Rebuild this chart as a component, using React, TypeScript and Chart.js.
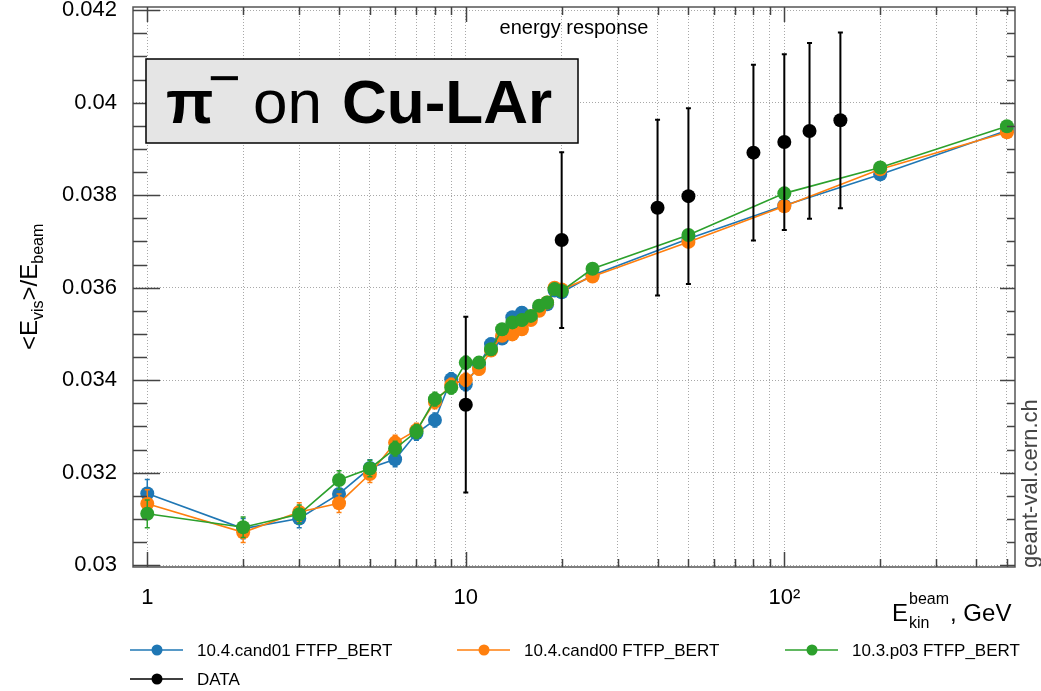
import React, { useEffect, useRef } from "react";
import { Chart, registerables } from "chart.js";

Chart.register(...registerables);

// ---------------- data ----------------
const energies = [1, 2, 3, 4, 5, 6, 7, 8, 9, 10, 11, 12, 13, 14, 15, 16, 17, 18, 19, 20, 25, 50, 100, 200, 500];

const cand01 = [
  0.03155, 0.03079, 0.03101, 0.03154, 0.0321, 0.03229, 0.03285, 0.03314, 0.03402, 0.03391,
  0.03434, 0.03478, 0.0349, 0.03536, 0.03546, 0.03535, 0.03557, 0.03564, 0.03594, 0.0359,
  0.03627, 0.03706, 0.03778, 0.03845, 0.0394,
];
const cand00 = [
  0.03133, 0.03071, 0.03115, 0.03134, 0.03197, 0.03265, 0.03292, 0.03353, 0.0339, 0.03401,
  0.03424, 0.03464, 0.03496, 0.03499, 0.0351, 0.0353, 0.0355, 0.03568, 0.036, 0.03596,
  0.03624, 0.03699, 0.03776, 0.03856, 0.03936,
];
const p03 = [
  0.03111, 0.03082, 0.0311, 0.03184, 0.03209, 0.03252, 0.03289, 0.03359, 0.03384, 0.03438,
  0.03438, 0.03467, 0.0351, 0.03525, 0.0353, 0.03539, 0.03561, 0.03568, 0.03597, 0.03593,
  0.03641, 0.03714, 0.03804, 0.0386, 0.03949,
];
const mcErr = [
  0.0003, 0.00022, 0.0002, 0.0002, 0.00018, 0.00016, 0.00015, 0.00015, 0.00014, 0.00014,
  0.00012, 0.00012, 0.00012, 0.00012, 0.00012, 0.0001, 0.0001, 0.0001, 0.0001, 0.0001,
  0.0001, 0.0001, 0.0001, 0.0001, 0.0001,
];

const dataEnergies = [10, 20, 40, 50, 80, 100, 120, 150];
const dataValues = [0.03347, 0.03703, 0.03773, 0.03798, 0.03892, 0.03915, 0.03939, 0.03962];
const dataErr = [0.0019, 0.0019, 0.0019, 0.0019, 0.0019, 0.0019, 0.0019, 0.0019];

const seriesNames = ["10.4.cand01 FTFP_BERT", "10.4.cand00 FTFP_BERT", "10.3.p03 FTFP_BERT", "DATA"];
const seriesColors = ["#1f77b4", "#ff7f0e", "#2ca02c", "#000000"];

const xTicks = [1, 2, 3, 4, 5, 6, 7, 8, 9, 10, 20, 30, 40, 50, 60, 70, 80, 90, 100, 200, 300, 400, 500];
const xMajor = [1, 10, 100];
const xMajorLabels = ["1", "10", "10²"];
const yTicks = [0.03, 0.032, 0.034, 0.036, 0.038, 0.04, 0.042];
const yLabels = ["0.03", "0.032", "0.034", "0.036", "0.038", "0.04", "0.042"];
const yMinorStep = 0.0005;

const FONT = "'Liberation Sans', Arial, Helvetica, sans-serif";

function pts(xs: number[], ys: number[]) {
  return xs.map((x, i) => ({ x, y: ys[i] }));
}

// ---------------- plugins ----------------
const errorBarPlugin = {
  id: "errorBars",
  beforeDatasetDraw(chart: any, args: any) {
    const ds = chart.data.datasets[args.index];
    if (!ds.errors) return;
    const { ctx, chartArea } = chart;
    const xs = chart.scales.x;
    const ys = chart.scales.y;
    ctx.save();
    ctx.beginPath();
    ctx.rect(chartArea.left, chartArea.top, chartArea.right - chartArea.left, chartArea.bottom - chartArea.top);
    ctx.clip();
    ctx.strokeStyle = ds.borderColor;
    ctx.lineWidth = ds.errWidth || 1.5;
    const cap = ds.capHalf || 2.5;
    ds.data.forEach((p: any, i: number) => {
      const px = xs.getPixelForValue(p.x);
      const y1 = ys.getPixelForValue(p.y + ds.errors[i]);
      const y2 = ys.getPixelForValue(p.y - ds.errors[i]);
      ctx.beginPath();
      ctx.moveTo(px, y1);
      ctx.lineTo(px, y2);
      ctx.moveTo(px - cap, y1);
      ctx.lineTo(px + cap, y1);
      ctx.moveTo(px - cap, y2);
      ctx.lineTo(px + cap, y2);
      ctx.stroke();
    });
    ctx.restore();
  },
};

const decorPlugin = {
  id: "decor",
  afterDraw(chart: any) {
    const { ctx, chartArea } = chart;
    const { left, right, top, bottom } = chartArea;
    const xs = chart.scales.x;
    const ys = chart.scales.y;
    ctx.save();

    // frame
    ctx.strokeStyle = "#555";
    ctx.lineWidth = 1.5;
    ctx.strokeRect(left, top, right - left, bottom - top);

    // y ticks (inside, left & right)
    ctx.strokeStyle = "#444";
    ctx.lineWidth = 1.5;
    for (let v = yTicks[0]; v <= ys.max + 1e-9; v += yMinorStep) {
      const py = Math.round(ys.getPixelForValue(v)) + 0.5;
      const major = yTicks.some((t) => Math.abs(t - v) < 1e-7);
      ctx.beginPath();
      ctx.moveTo(left, py);
      ctx.lineTo(left + (major ? 27 : 14), py);
      ctx.moveTo(right, py);
      ctx.lineTo(right - (major ? 15 : 8), py);
      ctx.stroke();
    }
    // x ticks (inside, bottom & top)
    xTicks.forEach((t) => {
      const px = Math.round(xs.getPixelForValue(t)) + 0.5;
      const major = xMajor.includes(t);
      const len = major ? 15 : 8;
      ctx.beginPath();
      ctx.moveTo(px, bottom);
      ctx.lineTo(px, bottom - len);
      ctx.moveTo(px, top);
      ctx.lineTo(px, top + len);
      ctx.stroke();
    });

    // title box
    ctx.fillStyle = "#e5e5e5";
    ctx.fillRect(146, 59, 432, 84);
    ctx.strokeStyle = "#000";
    ctx.lineWidth = 1.5;
    ctx.strokeRect(146, 59, 432, 84);
    ctx.fillStyle = "#000";
    ctx.textBaseline = "alphabetic";
    ctx.textAlign = "left";
    ctx.font = `bold 62px ${FONT}`;
    ctx.fillText("π", 166, 123);
    ctx.font = `56px ${FONT}`;
    ctx.fillText("−", 208, 97);
    ctx.font = `62px ${FONT}`;
    ctx.fillText("on", 253, 123);
    ctx.font = `bold 62px ${FONT}`;
    ctx.fillText("Cu-LAr", 342, 123);

    // header
    ctx.font = `20px ${FONT}`;
    ctx.textAlign = "center";
    ctx.fillText("energy response", 574, 34);

    // y title (rotated)
    ctx.save();
    ctx.translate(37, 350);
    ctx.rotate(-Math.PI / 2);
    ctx.textAlign = "left";
    let cx = 0;
    const part = (txt: string, size: number, dy: number) => {
      ctx.font = `${size}px ${FONT}`;
      ctx.fillText(txt, cx, dy);
      cx += ctx.measureText(txt).width;
    };
    part("<E", 24, 0);
    part("vis", 16, 6);
    part(">/E", 24, 0);
    part("beam", 16, 6);
    ctx.restore();

    // x title
    ctx.save();
    ctx.textAlign = "left";
    ctx.font = `24px ${FONT}`;
    const ex = 892;
    ctx.fillText("E", ex, 621);
    const ew = ctx.measureText("E").width;
    ctx.font = `16px ${FONT}`;
    ctx.fillText("beam", ex + ew + 1, 604);
    ctx.fillText("kin", ex + ew + 1, 628);
    const bw = ctx.measureText("beam").width;
    ctx.font = `24px ${FONT}`;
    ctx.fillText(", GeV", ex + ew + 1 + bw + 1, 621);
    ctx.restore();

    // watermark
    ctx.save();
    ctx.translate(1037, 568);
    ctx.rotate(-Math.PI / 2);
    ctx.font = `22px ${FONT}`;
    ctx.fillStyle = "#444";
    ctx.textAlign = "left";
    ctx.fillText("geant-val.cern.ch", 0, 0);
    ctx.restore();

    // legend
    const lx = [130, 457, 785, 130];
    const ly = [650, 650, 650, 679];
    ctx.font = `17px ${FONT}`;
    ctx.textBaseline = "middle";
    ctx.textAlign = "left";
    seriesNames.forEach((name, i) => {
      ctx.strokeStyle = seriesColors[i];
      ctx.fillStyle = seriesColors[i];
      ctx.lineWidth = 1.5;
      ctx.beginPath();
      ctx.moveTo(lx[i], ly[i]);
      ctx.lineTo(lx[i] + 53, ly[i]);
      ctx.stroke();
      ctx.beginPath();
      ctx.arc(lx[i] + 27, ly[i], 5.5, 0, Math.PI * 2);
      ctx.fill();
      ctx.fillStyle = "#000";
      ctx.fillText(name, lx[i] + 67, ly[i] + 1);
    });

    ctx.restore();
  },
};

export default function App() {
  const ref = useRef<HTMLCanvasElement | null>(null);

  useEffect(() => {
    document.body.style.margin = "0";
    const canvas = ref.current;
    if (!canvas) return;
    const mk = (label: string, xs: number[], ys: number[], errs: number[], color: string, order: number, r: number, bw: number, ew: number, cap: number) => ({
      label,
      data: pts(xs, ys),
      errors: errs,
      errWidth: ew,
      capHalf: cap,
      borderColor: color,
      backgroundColor: color,
      borderWidth: bw,
      pointRadius: r,
      pointBorderWidth: 0,
      pointBackgroundColor: color,
      showLine: true,
      tension: 0,
      order,
    });
    const chart = new Chart(canvas, {
      type: "scatter",
      data: {
        datasets: [
          mk(seriesNames[0], energies, cand01, mcErr, seriesColors[0], 3, 7, 1.6, 1.5, 2.5),
          mk(seriesNames[1], energies, cand00, mcErr, seriesColors[1], 2, 7, 1.6, 1.5, 2.5),
          mk(seriesNames[2], energies, p03, mcErr, seriesColors[2], 1, 7, 1.6, 1.5, 2.5),
          { ...mk(seriesNames[3], dataEnergies, dataValues, dataErr, seriesColors[3], 0, 7, 0, 2, 2.5), showLine: false },
        ] as any,
      },
      options: {
        responsive: false,
        animation: false,
        events: [],
        layout: { autoPadding: false, padding: { left: 0, top: 7, right: 26, bottom: 0 } },
        plugins: { legend: { display: false }, tooltip: { enabled: false }, title: { display: false } },
        scales: {
          x: {
            type: "logarithmic",
            min: 0.902,
            max: 530,
            afterBuildTicks: (s: any) => {
              s.ticks = xTicks.map((v) => ({ value: v }));
            },
            afterFit: (s: any) => {
              s.height = 124;
              s.paddingLeft = 0;
              s.paddingRight = 0;
            },
            border: { display: false, dash: [1, 2] },
            grid: { color: "#a8a8a8", lineWidth: 1, drawTicks: false },
            ticks: {
              autoSkip: false,
              maxRotation: 0,
              padding: 18,
              color: "#000",
              font: { family: FONT, size: 22 },
              callback: (v: any) => {
                const k = xMajor.indexOf(Number(v));
                return k >= 0 ? xMajorLabels[k] : "";
              },
            },
          },
          y: {
            type: "linear",
            min: 0.02996,
            max: 0.04207,
            afterBuildTicks: (s: any) => {
              s.ticks = yTicks.map((v) => ({ value: v }));
            },
            afterFit: (s: any) => {
              s.width = 133;
              s.paddingTop = 0;
              s.paddingBottom = 0;
            },
            border: { display: false, dash: [1, 2] },
            grid: { color: "#a8a8a8", lineWidth: 1, drawTicks: false },
            ticks: {
              autoSkip: false,
              padding: 16,
              color: "#000",
              font: { family: FONT, size: 22 },
              callback: (v: any) => {
                const k = yTicks.findIndex((t) => Math.abs(t - Number(v)) < 1e-7);
                return k >= 0 ? yLabels[k] : "";
              },
            },
          },
        },
      },
      plugins: [errorBarPlugin, decorPlugin],
    } as any);
    return () => chart.destroy();
  }, []);

  return (
    <div style={{ position: "absolute", left: 0, top: 0, width: 1041, height: 691, background: "#fff" }}>
      <canvas ref={ref} width={1041} height={691} style={{ display: "block" }} />
    </div>
  );
}
